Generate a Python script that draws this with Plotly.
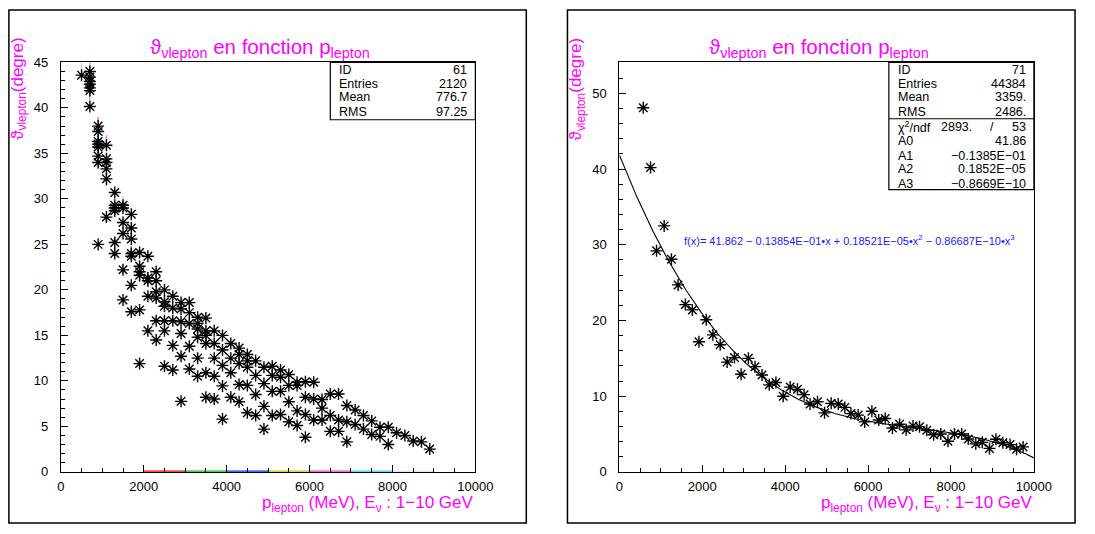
import numpy as np
import plotly.graph_objects as go

# ---------------- data ----------------
# Left panel: p_lepton bins (MeV) and the theta values (deg) seen in each bin
left_p = [500, 700, 900, 1100, 1300, 1500, 1700, 1900, 2100, 2300, 2500, 2700, 2900,
          3100, 3300, 3500, 3700, 3900, 4100, 4300, 4500, 4700, 4900, 5100, 5300,
          5500, 5700, 5900, 6100, 6300, 6500, 6700, 6900, 7100, 7300, 7500, 7700,
          7900, 8100, 8300, 8500, 8700, 8900]
left_theta = [
    [43.6],
    [44.0, 43.4, 42.9, 42.6, 42.2, 41.9, 40.15],
    [38.0, 37.4, 36.3, 36.0, 35.7, 34.7, 34.0, 25.0],
    [35.9, 34.4, 34.0, 33.3, 32.2, 28.0],
    [30.7, 29.3, 29.0, 28.7, 25.2, 24.0],
    [29.3, 29.0, 27.4, 26.2, 22.2, 18.9],
    [28.3, 26.8, 25.6, 24.0, 23.7, 20.5, 17.6],
    [24.1, 22.6, 22.0, 21.6, 17.8, 11.9],
    [23.7, 21.3, 21.0, 19.3, 15.5],
    [22.0, 21.0, 19.8, 19.1, 16.6, 14.5],
    [20.0, 18.7, 18.2, 16.6, 15.5, 11.6],
    [19.3, 18.0, 16.6, 13.9, 11.2],
    [18.6, 17.9, 16.5, 15.2, 12.7, 7.75],
    [18.6, 17.5, 16.3, 13.8, 11.3],
    [17.0, 16.3, 15.7, 14.8, 12.5, 10.5],
    [16.9, 15.5, 15.0, 14.1, 10.9, 8.2],
    [15.5, 14.1, 12.5, 10.5, 8.0],
    [15.0, 13.4, 11.7, 9.45, 5.8],
    [14.1, 12.5, 10.9, 8.2],
    [13.6, 12.9, 11.9, 9.6, 7.7],
    [12.9, 12.2, 11.5, 9.5, 6.5],
    [12.2, 10.6, 8.5, 6.2],
    [11.5, 9.7, 7.2, 4.7],
    [11.6, 10.6, 8.85, 6.2],
    [11.2, 10.4, 8.85, 6.3],
    [10.7, 9.5, 7.7, 5.5],
    [9.85, 9.5, 6.7, 5.1],
    [9.9, 8.2, 6.3, 3.8],
    [9.85, 8.0, 5.7],
    [7.95, 7.0, 5.7],
    [8.55, 6.2, 4.45],
    [8.55, 5.7, 4.45],
    [7.3, 5.5, 3.3],
    [6.8, 5.2],
    [6.2, 4.7],
    [5.6, 4.1],
    [4.9, 3.9],
    [4.9, 3.0],
    [4.3],
    [4.0],
    [3.4],
    [3.3],
    [2.5],
]

# small coloured error bars on the left panel
err_p = [500, 700, 700, 700, 900, 900, 900, 1100, 1100, 1100, 1300, 1300, 1500, 1500, 1700, 1700, 1900, 2100, 2300]
err_lo = [43.6, 43.0, 44.6, 40.9, 37.5, 35.8, 33.3, 35.5, 31.4, 27.4, 28.0, 25.0, 29.3, 21.8, 23.3, 25.8, 20.9, 20.3, 18.6]
err_hi = [45.5, 45.5, 45.5, 42.0, 39.0, 38.0, 34.2, 37.0, 32.4, 28.3, 29.0, 25.8, 30.3, 22.4, 24.8, 26.2, 22.2, 22.0, 19.4]
err_col = ["#a8e4ff", "#a8e4ff", "#d4d400", "#ff9090", "#ff60ff", "#40d0ff", "#ff8080", "#ff60ff", "#40d040",
           "#ff4040", "#60a0ff", "#60d060", "#d0c0ff", "#40c040", "#ff40ff", "#4040ff", "#00c0ff", "#ff80ff", "#ff80ff"]

# coloured segments along the left x axis
seg_edges = [2000, 3000, 4000, 5000, 6000, 7000, 8000, 9000]
seg_colors = ["#ff0000", "#00c000", "#0030ff", "#d0c000", "#ff30d0", "#30d0ff", "#c8ecf8"]

# Right panel: profile points
right_p = [576, 752, 896, 1080, 1256, 1416, 1592, 1760, 1920, 2096,
           2256, 2432, 2600, 2776, 2936, 3112, 3272, 3440, 3616, 3776,
           3952, 4120, 4296, 4456, 4600, 4780, 4950, 5110, 5280, 5440,
           5587, 5761, 5918, 6092, 6257, 6414, 6588, 6761, 6919, 7084,
           7241, 7416, 7582, 7754, 7927, 8085, 8258, 8416, 8598, 8754,
           8929, 9085, 9251, 9425, 9582, 9740]
right_theta = [48.1, 40.2, 29.2, 32.5, 28.1, 24.7, 22.1, 21.4, 17.2, 20.1,
               18.1, 16.8, 14.5, 15.1, 12.9, 15.0, 13.9, 12.8, 11.5, 11.8,
               10.0, 11.2, 10.9, 10.2, 8.97, 9.27, 7.8, 9.05, 8.97, 8.52,
               7.7, 7.5, 6.6, 8.0, 6.85, 7.05, 5.8, 6.3, 5.55, 6.05,
               5.95, 5.5, 4.9, 5.0, 4.05, 5.0, 5.0, 4.35, 3.7, 3.9,
               3.1, 4.3, 3.85, 3.6, 3.0, 3.3]

# cubic fit parameters A0..A3
fit_params = [41.862, -0.13854e-01, 0.18521e-05, -0.86687e-10]

left_stats_labels = ["ID", "Entries", "Mean", "RMS"]
left_stats_values = ["61", "2120", "776.7", "97.25"]
right_stats_labels = ["ID", "Entries", "Mean", "RMS"]
right_stats_values = ["71", "44384", "3359.", "2486."]
fit_labels = ["A0", "A1", "A2", "A3"]
fit_values = ["41.86", "\u22120.1385E\u221201", "0.1852E\u221205", "\u22120.8669E\u221210"]

x_ticks = [0, 2000, 4000, 6000, 8000, 10000]

# ---------------- figure ----------------
W, H = 1095, 534
MAG = "#ff00ff"
TFONT = "Liberation Sans"


def fx(x):
    return x / W


def fy(y):
    return 1 - y / H


fig = go.Figure()

# left scatter
lx, ly = [], []
for p, ths in zip(left_p, left_theta):
    for t in ths:
        lx.append(p)
        ly.append(t)

for p, lo, hi, c in zip(err_p, err_lo, err_hi, err_col):
    fig.add_trace(go.Scatter(x=[p, p], y=[lo, min(hi, 45)], mode="lines",
                             line=dict(color=c, width=1.5), xaxis="x", yaxis="y",
                             hoverinfo="skip", cliponaxis=True))

for i, c in enumerate(seg_colors):
    fig.add_trace(go.Scatter(x=[seg_edges[i], seg_edges[i + 1]], y=[0, 0], mode="lines",
                             line=dict(color=c, width=2.5), xaxis="x", yaxis="y",
                             cliponaxis=False, hoverinfo="skip"))

marker = dict(symbol="asterisk-open", size=10, color="black",
              line=dict(color="black", width=1.4))
fig.add_trace(go.Scatter(x=lx, y=ly, mode="markers", marker=marker,
                         xaxis="x", yaxis="y", cliponaxis=False))

# right: fit curve + points
fxs = np.linspace(0, 10000, 300)
fys = sum(a * fxs ** k for k, a in enumerate(fit_params))
fig.add_trace(go.Scatter(x=fxs, y=fys, mode="lines", line=dict(color="black", width=1.1),
                         xaxis="x2", yaxis="y2"))
fig.add_trace(go.Scatter(x=right_p, y=right_theta, mode="markers", marker=marker,
                         xaxis="x2", yaxis="y2", cliponaxis=False))

# geometry (pixels)
L = dict(x0=58, x1=481)
R = dict(x0=628, x1=1051)
Y_TOP, Y_BOT = 57, 478.3

axis_common = dict(showline=True, linecolor="black", linewidth=1, mirror=True,
                   ticks="inside", ticklen=7, tickwidth=1, tickcolor="black",
                   showgrid=False, zeroline=False,
                   tickfont=dict(family=TFONT, size=13, color="black"))

xa = dict(range=[0, 10000], tickvals=x_ticks, ticktext=[str(v) for v in x_ticks],
          minor=dict(dtick=500, ticklen=4, ticks="inside", tickcolor="black"),
          ticklabelstandoff=3, **axis_common)

fig.update_layout(
    width=W, height=H, margin=dict(l=0, r=0, t=0, b=0),
    paper_bgcolor="white", plot_bgcolor="white", showlegend=False,
    xaxis=dict(domain=[fx(L["x0"]), fx(L["x1"])], anchor="y", **xa),
    yaxis=dict(domain=[fy(Y_BOT), fy(Y_TOP)], range=[0, 45], tickvals=list(range(0, 46, 5)),
               minor=dict(dtick=1, ticklen=4, ticks="inside", tickcolor="black"),
               ticklabelstandoff=9, anchor="x", **axis_common),
    xaxis2=dict(domain=[fx(R["x0"]), fx(R["x1"])], anchor="y2", **xa),
    yaxis2=dict(domain=[fy(Y_BOT), fy(Y_TOP)], range=[0, 54.1], tickvals=list(range(0, 51, 10)),
                minor=dict(dtick=2, ticklen=4, ticks="inside", tickcolor="black"),
                ticklabelstandoff=9, anchor="x2", **axis_common),
)

shapes = []
# panel frames
shapes.append(dict(type="rect", xref="paper", yref="paper", x0=fx(5), x1=fx(533), y0=fy(531), y1=fy(3),
                   line=dict(color="black", width=1.5)))
shapes.append(dict(type="rect", xref="paper", yref="paper", x0=fx(575), x1=fx(1093), y0=fy(531), y1=fy(3),
                   line=dict(color="black", width=1.5)))
# stats boxes
shapes.append(dict(type="rect", xref="paper", yref="paper", x0=fx(333), x1=fx(481), y0=fy(116), y1=fy(57),
                   line=dict(color="black", width=1.2), fillcolor="white"))
shapes.append(dict(type="rect", xref="paper", yref="paper", x0=fx(903), x1=fx(1051), y0=fy(188), y1=fy(57),
                   line=dict(color="black", width=1.2), fillcolor="white"))
shapes.append(dict(type="line", xref="paper", yref="paper", x0=fx(903), x1=fx(1051), y0=fy(115), y1=fy(115),
                   line=dict(color="black", width=1.2)))
fig.update_layout(shapes=shapes)

ann = []


def text(x, y, s, xa="left", size=12.5, color="black", angle=0, ya="middle", family=TFONT):
    ann.append(dict(x=fx(x), y=fy(y), xref="paper", yref="paper", text=s, showarrow=False,
                    xanchor=xa, yanchor=ya, textangle=angle,
                    font=dict(family=family, size=size, color=color)))


title = "\u03d1<sub>\u03bdlepton</sub> en fonction p<sub>lepton</sub>"
ytitle = "\u03d1<sub>\u03bdlepton</sub>(degre)"
xtitle = "p<sub>lepton</sub> (MeV), E<sub>\u03bd</sub> : 1\u221210 GeV"

for (x0, x1) in [(L["x0"], L["x1"]), (R["x0"], R["x1"])]:
    text((x0 + x1) / 2 - 8, 42, title, xa="center", size=20.5, color=MAG)
    text(x1, 511, xtitle, xa="right", size=17, color=MAG)
    text(x0 - 43, 30, ytitle, xa="center", ya="top", size=17, color=MAG, angle=-90)

rows = [65, 79, 93, 108]
for lab, val, y in zip(left_stats_labels, left_stats_values, rows):
    text(340, y, lab)
    text(475, y, val, xa="right")
for lab, val, y in zip(right_stats_labels, right_stats_values, rows):
    text(910, y, lab)
    text(1045, y, val, xa="right")

text(910, 123, "\u03c7<sup>2</sup>/ndf")
text(990, 123, "2893.", xa="right")
text(1008, 123, "/", xa="center")
text(1045, 123, "53", xa="right")
for lab, val, y in zip(fit_labels, fit_values, [138, 153, 167, 182]):
    text(910, y, lab)
    text(1045, y, val, xa="right")

text(692, 240, "f(x)= 41.862 \u2212 0.13854E\u221201\u2022x + 0.18521E\u221205\u2022x<sup>2</sup> \u2212 "
     "0.86687E\u221210\u2022x<sup>3</sup>", size=11, color="#1a1aff")

fig.update_layout(annotations=ann)
fig.write_html("out.html", config={"displayModeBar": False},
               post_script="document.body.style.margin='0px';document.body.style.overflow='hidden';")
